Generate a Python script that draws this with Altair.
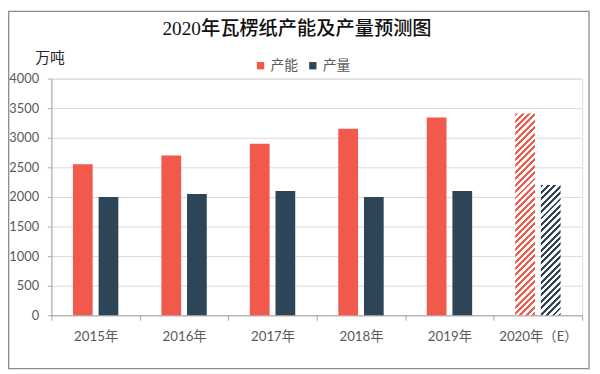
import altair as alt
import pandas as pd

# ---- data ----
years = ["2015年", "2016年", "2017年", "2018年", "2019年", "2020年（E）"]
capacity = [2550, 2700, 2900, 3150, 3340, 3410]      # 产能
production = [2000, 2050, 2100, 2000, 2100, 2200]     # 产量
series = ["产能", "产量"]
colors = ["#F0594B", "#2E4457"]
y_ticks = [0, 500, 1000, 1500, 2000, 2500, 3000, 3500, 4000]
forecast_year = years[-1]
title_text = "2020年瓦楞纸产能及产量预测图"

# ---- layout ----
PW, PH = 538, 240
YMAX = 4000
BAR_W = 20
GAP = 6
FONT = "Lato, Noto Sans CJK SC, sans-serif"
GREY = "#595959"

rows = []
for i, y in enumerate(years):
    rows.append({"year": y, "series": series[0], "value": capacity[i], "hatched": y == forecast_year})
    rows.append({"year": y, "series": series[1], "value": production[i], "hatched": y == forecast_year})
df = pd.DataFrame(rows)

band = PW / len(years)
step = BAR_W + GAP
p_inner = GAP / step
p_outer = (band / step - 2 + p_inner) / 2

x_enc = alt.X("year:N", sort=years, title=None,
              scale=alt.Scale(paddingInner=0, paddingOuter=0),
              axis=alt.Axis(labelAngle=0, tickBand="extent", grid=False, domainColor="#A6A6A6",
                            tickColor="#A6A6A6", tickSize=5, labelPadding=10, labelFontSize=13.5,
                            labelColor=GREY, labelFont=FONT))
xo_enc = alt.XOffset("series:N", sort=series,
                     scale=alt.Scale(domain=series, paddingInner=p_inner, paddingOuter=p_outer))
y_enc = alt.Y("value:Q", title="万吨",
              scale=alt.Scale(domain=[0, YMAX], nice=False),
              axis=alt.Axis(values=y_ticks, format="d", grid=True, gridColor="#D9D9D9",
                            domainColor="#A6A6A6", tickColor="#A6A6A6", tickSize=4,
                            labelPadding=9, labelFontSize=13,
                            labelColor=GREY, labelFont=FONT,
                            titleAngle=0, titleAlign="center", titleBaseline="middle",
                            titleX=-2, titleY=-21, titleFont=FONT, titleFontSize=15,
                            titleFontWeight="normal", titleColor="#262626"))

base = alt.Chart(df)

main = base.transform_filter("!datum.hatched").mark_bar(width=BAR_W).encode(
    x=x_enc, xOffset=xo_enc, y=y_enc,
    color=alt.Color("series:N", sort=series,
                    scale=alt.Scale(domain=series, range=colors),
                    legend=alt.Legend(title=None, orient="none", direction="horizontal",
                                      legendX=205, legendY=-20, symbolType="square",
                                      symbolSize=55, symbolStrokeWidth=0, labelFont=FONT,
                                      labelFontSize=14, labelColor=GREY, columnPadding=8,
                                      labelOffset=3)),
)


def hatch_fill(color, value, period=6.5, ink=3.0):
    h = value / YMAX * PH
    w = BAR_W
    L = w + h
    k = L * w / (w * w + h * h)
    stops = []
    i = 0
    while i * period < L:
        a = i * period / L
        b = min((i * period + ink) / L, 1.0)
        stops += [alt.GradientStop(offset=a, color="white"),
                  alt.GradientStop(offset=a, color=color),
                  alt.GradientStop(offset=b, color=color),
                  alt.GradientStop(offset=b, color="white")]
        i += 1
    stops.append(alt.GradientStop(offset=1.0, color="white"))
    return alt.LinearGradient(gradient="linear", stops=stops, x1=0, y1=0, x2=k, y2=k * h / w)


hatch_layers = []
for s_name, col, vals in zip(series, colors, [capacity, production]):
    v = vals[-1]
    layer = base.transform_filter(
        (alt.datum.hatched) & (alt.datum.series == s_name)
    ).mark_bar(width=BAR_W, fill=hatch_fill(col, v)).encode(
        x=x_enc, xOffset=xo_enc, y=y_enc
    )
    hatch_layers.append(layer)

title = alt.Chart(pd.DataFrame({"t": [title_text]})).mark_text(
    font="Liberation Serif, Noto Sans CJK SC, serif", fontSize=19.5, fontWeight=500,
    color="#111111", align="center", baseline="middle"
).encode(text="t:N", x=alt.value(249), y=alt.value(-50))

frame = alt.Chart(pd.DataFrame({"f": [0]})).mark_rect(
    filled=False, stroke="#8C8C8C", strokeWidth=1.3
).encode(x=alt.value(-43.3), x2=alt.value(545), y=alt.value(-68), y2=alt.value(294))

chart = alt.layer(main, *hatch_layers, title, frame).properties(
    width=PW, height=PH,
    autosize=alt.AutoSizeParams(type="none"),
    padding={"left": 44, "top": 69, "right": 10, "bottom": 57},
).configure_view(stroke=None).configure(background="white")

chart.save("out.html", embed_options={"renderer": "svg", "actions": False})
